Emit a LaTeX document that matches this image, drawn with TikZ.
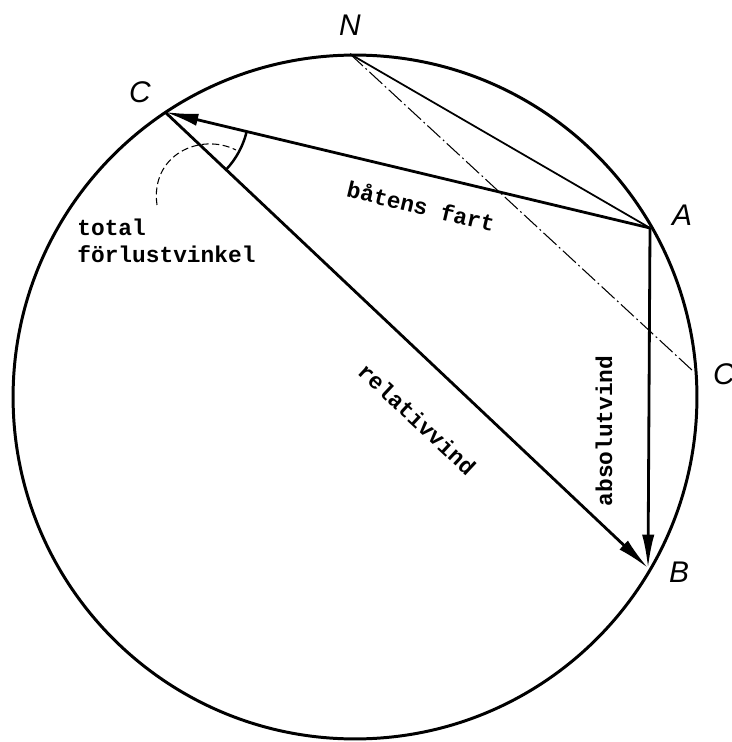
\documentclass[tikz,border=0pt]{standalone}
\usepackage{fontspec}
\setmainfont{Liberation Sans}
\newfontfamily\labfont{Liberation Mono}
\usetikzlibrary{arrows.meta}
\tikzset{
  rim/.style={line width=1.7pt},
  vec/.style={line width=1.6pt,-{Latex[length=19pt,width=7pt]}},
  chord/.style={line width=1.0pt},
  dashdot/.style={line width=0.6pt,dash pattern=on 10pt off 2pt on 1pt off 2pt},
  pointlab/.style={font=\fontsize{17pt}{17pt}\selectfont\itshape,inner sep=0pt},
  txt/.style={font=\labfont\bfseries\fontsize{13pt}{15pt}\selectfont,inner sep=0pt}
}
\begin{document}
\begin{tikzpicture}[x=0.02cm,y=-0.02cm]
\useasboundingbox (0,0) rectangle (731,742);
\clip (0,0) rectangle (731,742);
\coordinate (O) at (355,397);
\coordinate (N) at (350,54);
\coordinate (C) at (165,112);
\coordinate (A) at (650,228);
\coordinate (B) at (648,568);
\coordinate (Cp) at (693,371);
% circle
\draw[rim] (O) circle[radius=6.84cm];
% construction lines
\draw[chord] (N) -- (A);
\draw[dashdot] (N) -- (Cp);
% vectors
\draw[vec] (A) -- (C);
\draw[vec] (C) -- (B);
\draw[vec] (A) -- (B);
% angle arc
\draw[line width=1.4pt] ([shift={(-13.4:1.68cm)}]C) arc[start angle=-13.4,end angle=-43.4,radius=1.68cm];
% dashed pointer arc
\draw[line width=0.6pt,dash pattern=on 4pt off 2pt] (157,205) .. controls (150,155) and (200,132) .. (236,150);
% point labels
\node[pointlab] (lN) at (350,25) {N};
\node[pointlab] (lC) at (140,92) {C};
\node[pointlab] (lA) at (682,215) {A};
\node[pointlab] (lB) at (679,572) {B};
\node[pointlab] (lCp) at (724,374) {C};
% texts
\node[txt,rotate=-13.4] (tf) at (421,206) {båtens fart};
\node[txt,rotate=-43] (tr) at (417,419) {relativvind};
\node[txt,rotate=90] (ta) at (604,431) {absolutvind};
\node[txt,anchor=north west,align=left] (tt) at (77,219) {total\\förlustvinkel};
\end{tikzpicture}
\end{document}
